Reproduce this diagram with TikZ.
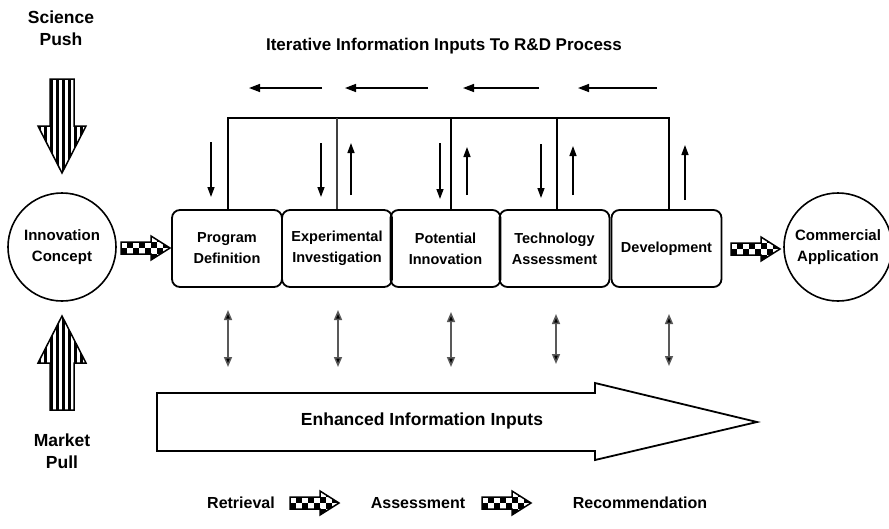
\documentclass[tikz,border=0pt]{standalone}
\usepackage{fontspec}
\setmainfont{Liberation Sans}
\usetikzlibrary{arrows.meta}

\tikzset{
  stage/.style={draw, line width=1.8pt, rounded corners=8pt, minimum width=110pt,
    minimum height=77pt, align=center, inner sep=0pt,
    font=\bfseries\fontsize{14.5}{21}\selectfont},
  endpoint/.style={draw, line width=1.6pt, circle, minimum size=108pt, align=center,
    inner sep=0pt, font=\bfseries\fontsize{15}{21}\selectfont},
  forcelabel/.style={align=center, font=\bfseries\fontsize{17.5}{22}\selectfont},
  legendtext/.style={font=\bfseries\fontsize{16}{18}\selectfont},
  feedback/.style={line width=1.4pt, -{Triangle[length=11pt,width=8pt]}},
  loopline/.style={line width=1.3pt},
  updown/.style={line width=1.4pt, -{Triangle[length=10pt,width=7pt]}},
  exchange/.style={line width=1.5pt, black!65,
    {Triangle[length=10pt,width=8pt,fill=black]}-{Triangle[length=10pt,width=8pt,fill=black]}},
  bigarrow/.style={draw, line width=1.8pt, fill=white},
}

% checkered block arrow pointing right, tail at #1
\newcommand{\checkerarrow}[1]{%
  \begin{scope}[shift={#1}]
    \begin{scope}
      \clip (0,-6) -- (30,-6) -- (30,-12) -- (49,0) -- (30,12) -- (30,6) -- (0,6) -- cycle;
      \fill[white] (0,-12) rectangle (49,12);
      \foreach \i in {0,...,8} {
        \foreach \j in {0,...,3} {
          \pgfmathtruncatemacro\chk{mod(\i+\j,2)}
          \ifnum\chk=0 \fill[black] (\i*6,-12+\j*6) rectangle ++(6,6); \fi
        }
      }
    \end{scope}
    \draw[line width=1.5pt, line join=miter]
      (0,-6) -- (30,-6) -- (30,-12) -- (49,0) -- (30,12) -- (30,6) -- (0,6) -- cycle;
  \end{scope}}

% vertically striped block arrow; #1 = end of shaft, #2 = yscale (1 down, -1 up)
\newcommand{\stripedarrow}[2]{%
  \begin{scope}[shift={#1}, yscale=#2]
    \begin{scope}
      \clip (-12,0) -- (12,0) -- (12,47) -- (24,47) -- (0,94) -- (-24,47) -- (-12,47) -- cycle;
      \fill[white] (-24,0) rectangle (24,94);
      \foreach \k in {-4,...,3} {
        \fill[black] (\k*6,0) rectangle ++(3,94);
      }
    \end{scope}
    \draw[line width=1.5pt, line join=miter]
      (-12,0) -- (12,0) -- (12,47) -- (24,47) -- (0,94) -- (-24,47) -- (-12,47) -- cycle;
  \end{scope}}

\begin{document}
\begin{tikzpicture}[x=1pt, y=-1pt]
  \useasboundingbox (0,0) rectangle (889,528);

  % push / pull labels and arrows
  \node[forcelabel] (push) at (61,28) {Science\\Push};
  \node[forcelabel] (pull) at (62,451) {Market\\Pull};
  \stripedarrow{(62,79)}{1}
  \stripedarrow{(62,410)}{-1}

  % end points
  \node[endpoint] (concept) at (62,247) {Innovation\\Concept};
  \node[endpoint] (commercial) at (838,247) {Commercial\\Application};

  % R&D stages
  \node[stage] (program) at (227,248.5) {Program\\Definition};
  \node[stage] (experiment) at (337,248.5) {Experimental\\Investigation};
  \node[stage] (potential) at (445.5,248.5) {Potential\\Innovation};
  \node[stage] (technology) at (554.5,248.5) {Technology\\Assessment};
  \node[stage] (development) at (666.5,248.5) {Development};

  \checkerarrow{(121,248)}
  \checkerarrow{(731,249)}

  % iterative feedback loop
  \node[font=\bfseries\fontsize{17}{19}\selectfont] (title) at (444,46)
    {Iterative Information Inputs To R\&D Process};
  \coordinate (t1) at (228,118);
  \coordinate (t2) at (337,118);
  \coordinate (t3) at (451,118);
  \coordinate (t4) at (557,118);
  \coordinate (t5) at (669,118);
  \draw[loopline] (program.north -| t1) -- (t1) -- (t5) -- (development.north -| t5);
  \draw[loopline, black!75] (experiment.north -| t2) -- (t2);
  \draw[loopline] (potential.north -| t3) -- (t3);
  \draw[loopline] (technology.north -| t4) -- (t4);

  \foreach \a/\b in {322/249, 428/345, 539/463, 657/578} {
    \coordinate (fa) at (\a,88);
    \coordinate (fb) at (\b,88);
    \draw[feedback] (fa) -- (fb);
  }
  \foreach \x/\a/\b in {211/142/197, 321/143/197, 440/143/199, 541/144/198,
                        351/195/143, 467/195/147, 573/195/146, 685/200/145} {
    \coordinate (ua) at (\x,\a);
    \coordinate (ub) at (\x,\b);
    \draw[updown] (ua) -- (ub);
  }

  % exchange with the information base
  \foreach \x/\a/\b in {228/310/367, 338/310/367, 451/312/367, 556/314/364, 669/314/366} {
    \coordinate (ea) at (\x,\a);
    \coordinate (eb) at (\x,\b);
    \draw[exchange] (ea) -- (eb);
  }

  % enhanced information inputs
  \draw[bigarrow, line join=miter]
    (157,393) -- (595,393) -- (595,383) -- (757,422) -- (595,460) -- (595,451) -- (157,451) -- cycle;
  \node[font=\bfseries\fontsize{17.5}{20}\selectfont] (inputs) at (422,421) {Enhanced Information Inputs};

  % process legend
  \node[legendtext] (retrieval) at (241,503) {Retrieval};
  \checkerarrow{(290,503)}
  \node[legendtext] (assessment) at (418,503) {Assessment};
  \checkerarrow{(482,503)}
  \node[legendtext] (recommendation) at (640,503) {Recommendation};
\end{tikzpicture}
\end{document}
